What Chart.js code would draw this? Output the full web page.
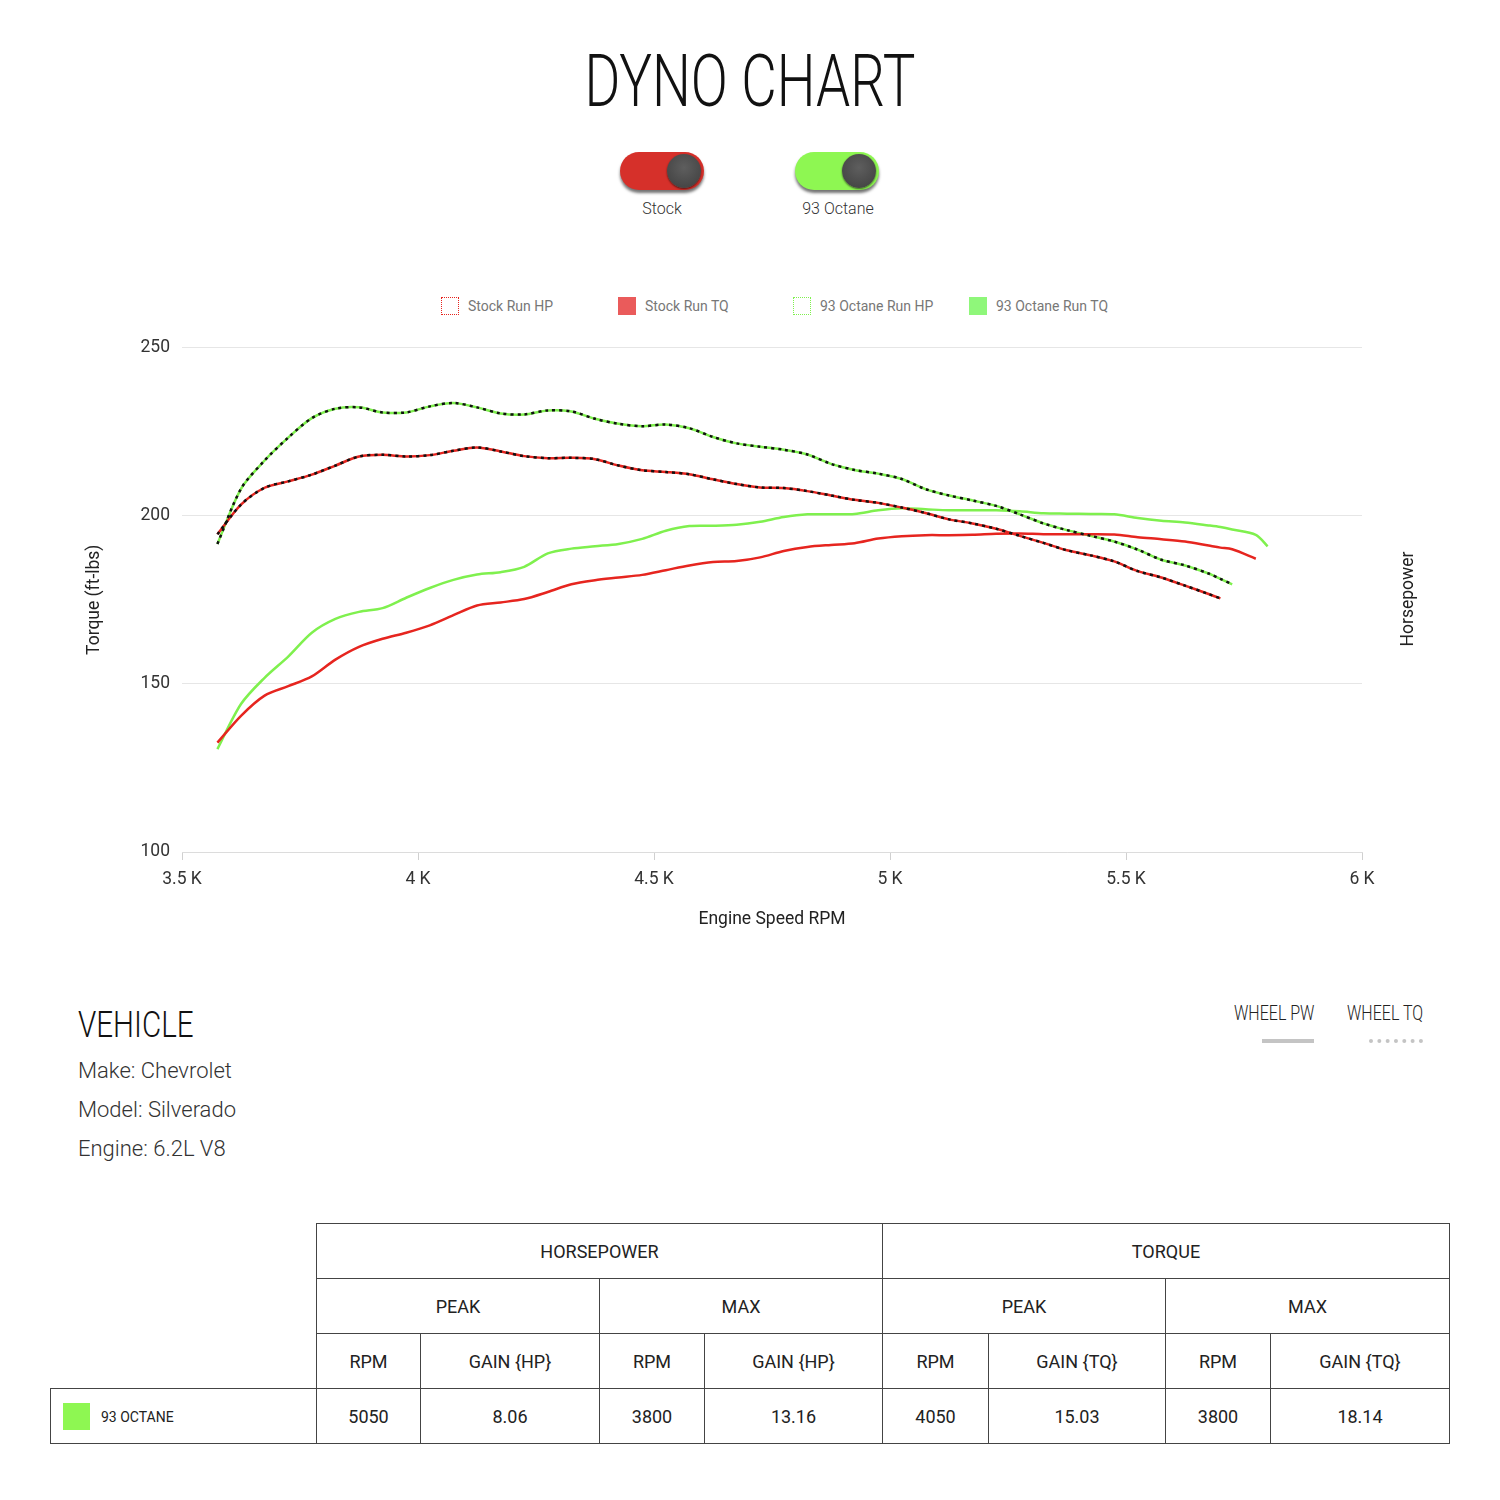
<!DOCTYPE html>
<html>
<head>
<meta charset="utf-8">
<script src="https://cdn.jsdelivr.net/npm/chart.js@4"></script>
<style>
  body { margin: 0; width: 1500px; height: 1500px; background: #fff; font-family: Roboto, sans-serif; position: relative; overflow: hidden; }
  .title { position: absolute; left: 0; width: 1500px; top: 39px; text-align: center; font-size: 72px; font-weight: 300; color: #111; transform: scaleX(0.76); }
  .toggle { position: absolute; top: 152px; width: 84px; height: 38px; border-radius: 19px; box-shadow: 0 3px 3px rgba(0,0,0,0.55); }
  .toggle .knob { position: absolute; right: 3px; top: 2px; width: 34px; height: 34px; border-radius: 50%; background: radial-gradient(circle at 50% 40%, #5e5e5e, #3e3e3e); box-shadow: 0 1px 2px rgba(0,0,0,0.6); }
  .tlabel { position: absolute; top: 199px; width: 160px; text-align: center; font-size: 16px; font-weight: 300; color: #333; }
  #legend { position: absolute; top: 297px; left: 0; }
  .litem { position: absolute; display: flex; align-items: center; font-size: 14px; color: #777; white-space: nowrap; }
  .lbox { width: 18px; height: 18px; margin-right: 9px; box-sizing: border-box; }
  #wrap { position: absolute; left: 80px; top: 325px; width: 1341px; height: 607px; }
  .hplabel { position: absolute; left: 1347px; top: 589px; width: 120px; text-align: center; font-size: 17.5px; color: #222; transform: rotate(-90deg); }
  .vtitle { position: absolute; left: 78px; top: 1003px; font-size: 37px; font-weight: 300; color: #111; transform: scaleX(0.8); transform-origin: left; }
  .vline { position: absolute; left: 78px; font-size: 22px; font-weight: 300; color: #333; }
  .wheel { position: absolute; top: 1001px; font-size: 20px; font-weight: 300; color: #222; transform: scaleX(0.8); transform-origin: left; }
  table { position: absolute; left: 50px; top: 1223px; border-collapse: collapse; table-layout: fixed; font-size: 18px; color: #222; }
  td { border: 1px solid #444; height: 54px; text-align: center; padding: 0; }
  td.blank { border: none; }
</style>
</head>
<body>
<div class="title">DYNO CHART</div>

<div class="toggle" style="left:620px;background:#d6302a;"><div class="knob"></div></div>
<div class="tlabel" style="left:582px;">Stock</div>
<div class="toggle" style="left:795px;background:#8ef752;"><div class="knob"></div></div>
<div class="tlabel" style="left:758px;">93 Octane</div>

<div id="legend"></div>
<div id="wrap"><canvas id="dyno"></canvas></div>
<div class="hplabel">Horsepower</div>

<div class="vtitle">VEHICLE</div>
<div class="vline" style="top:1058px;">Make: Chevrolet</div>
<div class="vline" style="top:1097px;">Model: Silverado</div>
<div class="vline" style="top:1136px;">Engine: 6.2L V8</div>

<div class="wheel" style="left:1234px;">WHEEL PW</div>
<div style="position:absolute;left:1262px;top:1039px;width:52px;height:4px;background:#c4c4c4;"></div>
<div class="wheel" style="left:1347px;">WHEEL TQ</div>
<div style="position:absolute;left:1369px;top:1039px;width:54px;height:0;border-top:4px dotted #c4c4c4;"></div>

<table>
  <colgroup>
    <col style="width:266px"><col style="width:104px"><col style="width:179px"><col style="width:105px"><col style="width:178px">
    <col style="width:106px"><col style="width:177px"><col style="width:105px"><col style="width:179px">
  </colgroup>
  <tr><td class="blank"></td><td colspan="4">HORSEPOWER</td><td colspan="4">TORQUE</td></tr>
  <tr><td class="blank"></td><td colspan="2">PEAK</td><td colspan="2">MAX</td><td colspan="2">PEAK</td><td colspan="2">MAX</td></tr>
  <tr><td class="blank"></td><td>RPM</td><td>GAIN {HP}</td><td>RPM</td><td>GAIN {HP}</td><td>RPM</td><td>GAIN {TQ}</td><td>RPM</td><td>GAIN {TQ}</td></tr>
  <tr>
    <td style="text-align:left;"><span style="display:inline-block;width:27px;height:27px;background:#8ef752;vertical-align:middle;margin-left:12px;margin-right:11px;"></span><span style="font-size:14px;vertical-align:middle;">93 OCTANE</span></td>
    <td>5050</td><td>8.06</td><td>3800</td><td>13.16</td><td>4050</td><td>15.03</td><td>3800</td><td>18.14</td>
  </tr>
</table>

<script>
const rpm = [3575, 3625, 3675, 3725, 3775, 3825, 3875, 3925, 3975, 4025,
             4075, 4125, 4175, 4225, 4275, 4325, 4375, 4425, 4475, 4525,
             4575, 4625, 4675, 4725, 4775, 4825, 4875, 4925, 4975, 5025,
             5075, 5125, 5175, 5225, 5275, 5325, 5375, 5425, 5475, 5525,
             5575, 5625, 5675, 5700, 5725, 5775, 5800];

const stockHP = [194.5, 203.3, 208.3, 210.2, 212.2, 214.9, 217.6, 218.1, 217.6, 218.0,
                 219.3, 220.3, 219.1, 217.7, 217.1, 217.2, 216.8, 214.9, 213.5, 213.0,
                 212.3, 210.8, 209.4, 208.4, 208.2, 207.3, 206.0, 204.7, 203.8, 202.4,
                 200.8, 198.9, 197.7, 196.1, 194.0, 191.9, 189.7, 188.2, 186.4, 183.5,
                 181.6, 179.2, 176.7, 175.4, null, null, null];

const stockTQ = [132.5, 140.5, 146.5, 149.3, 152.2, 157.2, 161.0, 163.4, 165.2, 167.4,
                 170.4, 173.3, 174.2, 175.2, 177.3, 179.6, 180.8, 181.6, 182.4, 183.8,
                 185.2, 186.2, 186.5, 187.6, 189.5, 190.7, 191.3, 191.8, 193.2, 193.9,
                 194.2, 194.2, 194.3, 194.6, 194.7, 194.5, 194.5, 194.5, 194.4, 193.6,
                 193.0, 192.3, 191.1, 190.5, 190.0, 187.2, null];

const octaneHP = [191.6, 208.0, 216.4, 223.2, 229.0, 231.8, 232.2, 230.7, 230.7, 232.5,
                  233.5, 232.2, 230.4, 230.1, 231.3, 231.0, 228.8, 227.3, 226.6, 227.1,
                  226.0, 223.4, 221.5, 220.5, 219.6, 218.2, 215.4, 213.6, 212.5, 210.9,
                  207.9, 206.0, 204.5, 202.9, 200.4, 197.7, 195.7, 194.0, 192.3, 189.9,
                  186.9, 185.2, 182.8, 181.2, 179.6, null, null];

const octaneTQ = [130.6, 144.0, 151.8, 158.1, 165.2, 169.3, 171.4, 172.5, 175.6, 178.5,
                  180.9, 182.5, 183.2, 184.8, 188.8, 190.2, 190.9, 191.6, 193.1, 195.5,
                  196.9, 197.0, 197.3, 198.2, 199.6, 200.4, 200.4, 200.5, 201.6, 202.2,
                  201.9, 201.6, 201.6, 201.6, 201.3, 200.7, 200.6, 200.5, 200.4, 199.3,
                  198.5, 198.0, 197.1, 196.6, 195.9, 194.3, 190.9];

const RED = '#e6251f';
const GREEN = '#7ff04e';

function pts(vals) {
    return rpm.map((r, i) => ({ x: r, y: vals[i] }));
}

function line(label, vals, color, extra) {
    return Object.assign({
        label: label,
        data: pts(vals),
        borderColor: color,
        backgroundColor: color,
        borderWidth: 2.5,
        pointRadius: 0,
        tension: 0.3,
        fill: false,
        spanGaps: false,
        order: 1
    }, extra || {});
}

const datasets = [
    line('Stock Run HP', stockHP, RED, { backgroundColor: '#fff', legendDash: true }),
    line('Stock Run TQ', stockTQ, RED, { backgroundColor: '#ea5b5b' }),
    line('93 Octane Run HP', octaneHP, GREEN, { backgroundColor: '#fff', legendDash: true }),
    line('93 Octane Run TQ', octaneTQ, GREEN, { backgroundColor: '#8ff77a' }),
    // black dotted overlay on the hp curves, drawn on top
    line('', stockHP, '#111', { borderWidth: 2.5, borderDash: [3, 4], order: -1 }),
    line('', octaneHP, '#111', { borderWidth: 2.5, borderDash: [3, 4], order: -1 })
];

const tickFont = { family: 'Roboto', size: 17.5 };

const chart = new Chart(document.getElementById('dyno'), {
    type: 'line',
    data: { datasets: datasets },
    options: {
        responsive: true,
        maintainAspectRatio: false,
        animation: false,
        layout: { padding: { top: 13 } },
        plugins: {
            legend: { display: false },
            tooltip: { enabled: false }
        },
        scales: {
            x: {
                type: 'linear',
                min: 3500,
                max: 6000,
                afterFit: (s) => { s.height = 80; },
                ticks: {
                    stepSize: 500,
                    padding: 9,
                    color: '#333',
                    font: tickFont,
                    callback: (v) => (v / 1000) + ' K'
                },
                grid: { drawOnChartArea: false, tickLength: 8, color: '#d0d0d0' },
                border: { color: '#dcdcdc' },
                title: {
                    display: true,
                    text: 'Engine Speed RPM',
                    color: '#222',
                    padding: { top: 4, bottom: 2 },
                    font: { family: 'Roboto', size: 17.5 }
                }
            },
            y: {
                position: 'left',
                min: 100,
                max: 250,
                afterFit: (s) => { s.width = 102; },
                ticks: {
                    stepSize: 50,
                    padding: 12,
                    color: '#333',
                    font: tickFont
                },
                grid: { color: '#e6e6e6', drawTicks: false },
                border: { display: false },
                title: {
                    display: true,
                    text: 'Torque (ft-lbs)',
                    color: '#222',
                    font: { family: 'Roboto', size: 17.5 }
                }
            },
            y1: {
                position: 'right',
                min: 100,
                max: 250,
                afterFit: (s) => { s.width = 59; },
                ticks: { display: false },
                grid: { display: false },
                border: { display: false }
            }
        }
    }
});

// html legend, fixed-width items like the original page
const legendLeft = [441, 618, 793, 969];
const legendEl = document.getElementById('legend');
chart.data.datasets.filter(d => d.label).forEach((d, i) => {
    const item = document.createElement('div');
    item.className = 'litem';
    item.style.left = legendLeft[i] + 'px';
    const box = document.createElement('div');
    box.className = 'lbox';
    if (d.legendDash) {
        box.style.border = '1.5px dotted ' + d.borderColor;
        box.style.background = '#fff';
    } else {
        box.style.background = d.backgroundColor;
    }
    item.appendChild(box);
    item.appendChild(document.createTextNode(d.label));
    legendEl.appendChild(item);
});
</script>
</body>
</html>
